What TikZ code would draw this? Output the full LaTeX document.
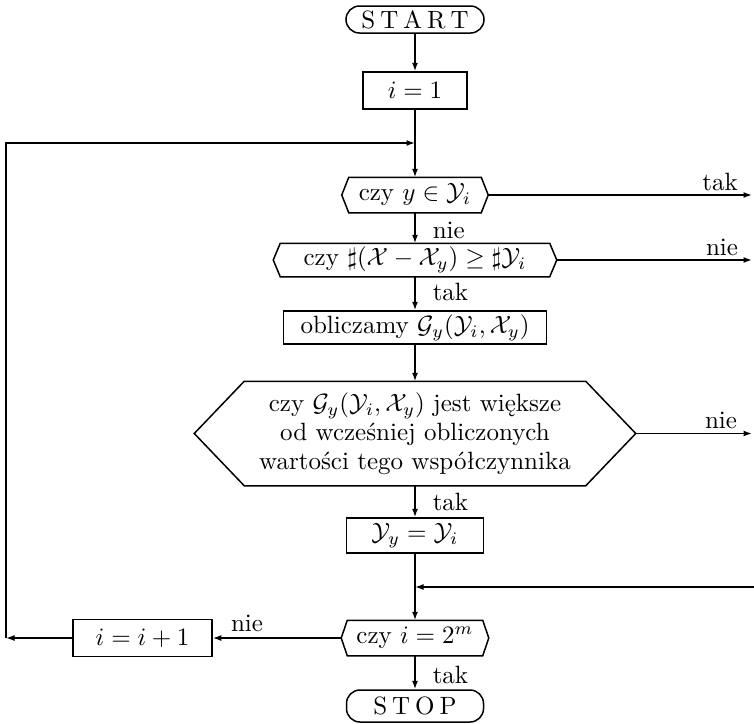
\documentclass[tikz,border=0pt]{standalone}
\usepackage{fontspec}
\usetikzlibrary{arrows.meta}
\newcommand{\hexshape}[2]{%
  \draw (#1.north west) -- (#1.north east) -- ([xshift=#2]#1.east) -- (#1.south east) -- (#1.south west) -- ([xshift=-#2]#1.west) -- cycle;
  \coordinate (#1-r) at ([xshift=#2]#1.east);
  \coordinate (#1-l) at ([xshift=-#2]#1.west);}
\begin{document}
\begin{tikzpicture}[x=0.4pt,y=-0.4pt,
  line width=0.6pt,
  every node/.style={font=\fontsize{10}{11.5}\selectfont},
  box/.style={draw, rectangle, inner sep=0pt},
  term/.style={draw, rectangle, rounded corners=5.4pt, inner sep=0pt},
  hexn/.style={rectangle, inner sep=0pt, align=center},
  arr/.style={-{Latex[length=3.4pt,width=2.4pt]}},
  lbl/.style={inner sep=0pt, anchor=west},
  rlbl/.style={inner sep=0pt}]
\useasboundingbox (0,0) rectangle (754,723);

\node[term, minimum width=55.2pt, minimum height=10.8pt] (start) at (415,19.5) {S\kern2pt T\kern2pt A\kern2pt R\kern2pt T};
\node[box, minimum width=41.6pt, minimum height=14.8pt] (i1) at (415,90.5) {$i=1$};
\node[hexn, minimum width=52.4pt, minimum height=13.6pt] (d1) at (415,195) {czy $y\in\mathcal{Y}_i$};
\hexshape{d1}{2.8pt}
\node[hexn, minimum width=107.2pt, minimum height=12.8pt] (d2) at (415,260) {czy $\sharp(\mathcal{X}-\mathcal{X}_y)\ge\sharp\mathcal{Y}_i$};
\hexshape{d2}{2.8pt}
\node[box, minimum width=105.2pt, minimum height=13.2pt] (calc) at (415,327.5) {obliczamy $\mathcal{G}_y(\mathcal{Y}_i,\mathcal{X}_y)$};
\node[hexn, minimum width=136pt, minimum height=41.2pt] (hex) at (415,433.5) {czy $\mathcal{G}_y(\mathcal{Y}_i,\mathcal{X}_y)$ jest większe\\od wcześniej obliczonych\\wartości tego współczynnika};
\hexshape{hex}{20pt}
\node[box, minimum width=54.8pt, minimum height=14pt] (yy) at (415,535.5) {$\mathcal{Y}_y=\mathcal{Y}_i$};
\node[hexn, minimum width=53.6pt, minimum height=13.6pt] (d3) at (415,638) {czy $i=2^m$};
\hexshape{d3}{2.4pt}
\node[box, minimum width=55.6pt, minimum height=14.8pt] (inc) at (142.5,638) {$i=i+1$};
\node[term, minimum width=54.8pt, minimum height=12.8pt] (stop) at (415,706) {S\kern2pt T\kern2pt O\kern2pt P};

\coordinate (j1) at (415,143);
\coordinate (lt) at (6,143);
\coordinate (lb) at (6,638);
\coordinate (j2) at (415,587);
\coordinate (e4) at (754,587);
\coordinate (e1) at (752,195);
\coordinate (e2) at (752,260);
\coordinate (e3) at (752,433.5);

\draw[arr] (start) -- (i1);
\draw[arr] (i1) -- (d1);
\draw[arr] (d1) -- (d2);
\draw[arr] (d2) -- (calc);
\draw[arr] (calc) -- (hex);
\draw[arr] (hex) -- (yy);
\draw[arr] (yy) -- (d3);
\draw[arr] (d3) -- (stop);
\draw[arr] (d1-r) -- (e1);
\draw[arr] (d2-r) -- (e2);
\draw[arr] (hex-r) -- (e3);
\draw[arr] (e4) -- (j2);
\draw[arr] (d3-l) -- (inc);
\draw[arr] (inc) -- (lb);
\draw[arr] (lb) -- (lt) -- (j1);

\node[lbl] (l1) at (432,230) {nie};
\node[lbl] (l2) at (432,292) {tak};
\node[lbl] (l3) at (432,502) {tak};
\node[lbl] (l4) at (432,675) {tak};
\node[rlbl] (r1) at (720,182) {tak};
\node[rlbl] (r2) at (722,247) {nie};
\node[rlbl] (r3) at (721,420) {nie};
\node[rlbl] (l5) at (247,623) {nie};
\end{tikzpicture}
\end{document}
